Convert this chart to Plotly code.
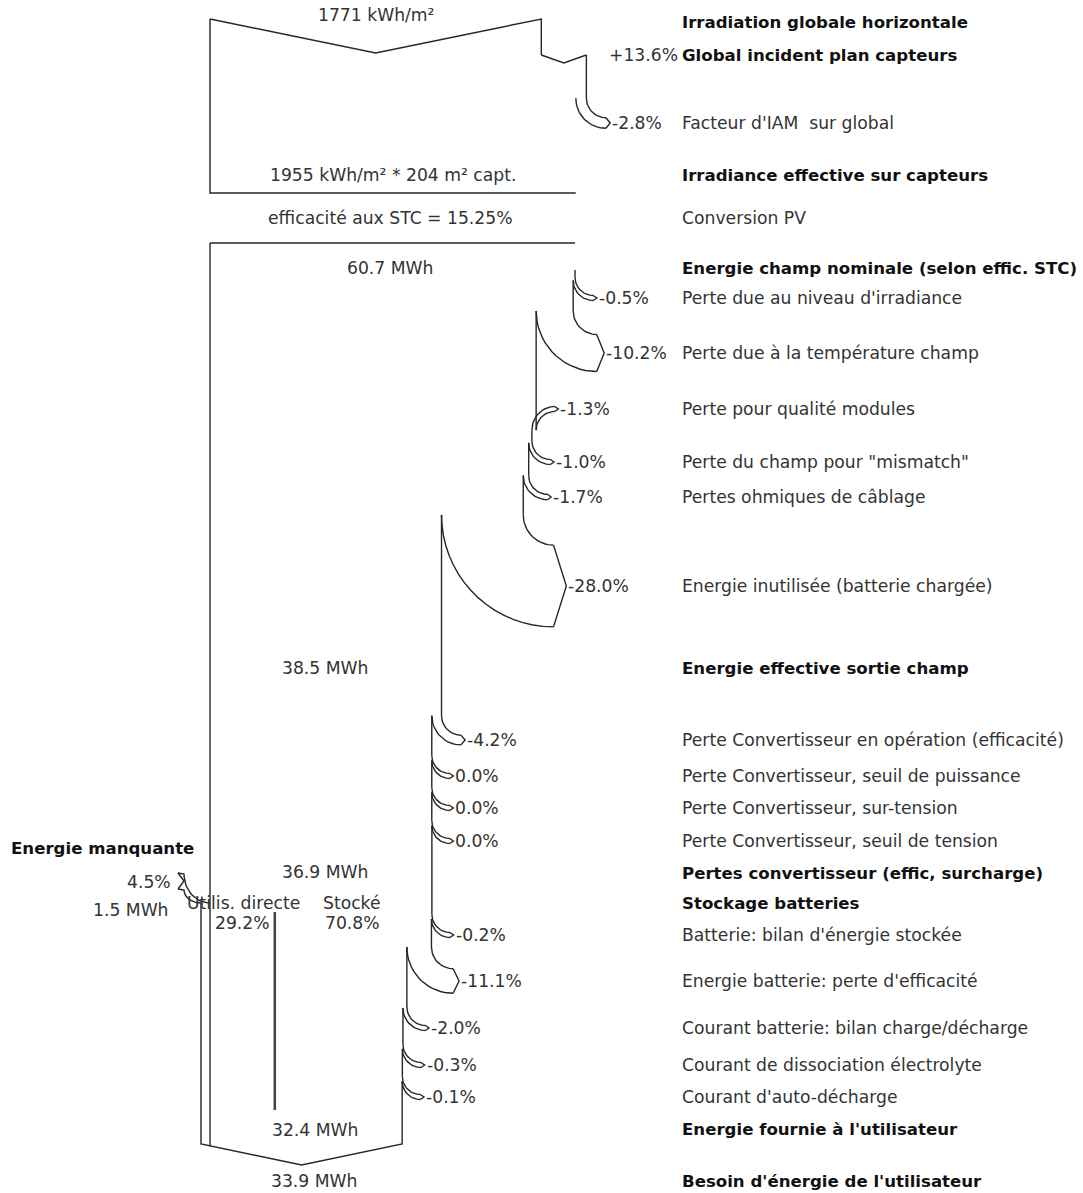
import numpy as np
import plotly.graph_objects as go

# ---- data ----
ghi = 1771            # kWh/m2, irradiation globale horizontale
transpo_gain = 13.6   # %
iam_loss = -2.8       # %
poa_eff = 1955        # kWh/m2 effective
area = 204            # m2 capteurs
eff_stc = 15.25       # %
e_nom = 60.7          # MWh

array_loss_labels = ["Perte due au niveau d'irradiance", "Perte due à la température champ",
                     "Perte pour qualité modules", 'Perte du champ pour "mismatch"',
                     "Pertes ohmiques de câblage", "Energie inutilisée (batterie chargée)"]
array_loss_pct = [-0.5, -10.2, -1.3, -1.0, -1.7, -28.0]
e_array = 38.5

conv_loss_labels = ["Perte Convertisseur en opération (efficacité)", "Perte Convertisseur, seuil de puissance",
                    "Perte Convertisseur, sur-tension", "Perte Convertisseur, seuil de tension"]
conv_loss_pct = [-4.2, 0.0, 0.0, 0.0]
e_conv = 36.9

direct_use_pct = 29.2
stored_pct = 70.8

batt_loss_labels = ["Batterie: bilan d'énergie stockée", "Energie batterie: perte d'efficacité",
                    "Courant batterie: bilan charge/décharge", "Courant de dissociation électrolyte",
                    "Courant d'auto-décharge"]
batt_loss_pct = [-0.2, -11.1, -2.0, -0.3, -0.1]

e_user = 32.4
e_missing = 1.5
missing_pct = 4.5
e_load = 33.9

# ---- layout (pixel rows of the diagram) ----
W, H = 1083, 1193
X0 = 210
NOM_WIDTH = 365
LABEL_X = 681
Y_GHI, Y_GAIN, Y_IAM, Y_POA, Y_CONVPV, Y_NOM = 22, 55, 123, 175, 218, 268
array_rows = [298, 353, 409, 462, 497, 586]
Y_ARRAY = 668
conv_rows = [740, 776, 808, 841]
Y_CONV, Y_STORE = 873, 903
batt_rows = [935, 981, 1028, 1065, 1097]
Y_USER, Y_LOAD = 1129, 1181
UPWARD = {"Perte pour qualité modules"}

FONT = "DejaVu Sans"
FS = 17.2
FS_BOLD = 16.6
LINE = "#262626"
TXT = "#333333"

scale = NOM_WIDTH / e_nom
scale_irr = scale * area * eff_stc / 100 / 1000


def xpos(v, s=scale):
    return X0 + v * s


xs, ys = [], []


def path(pts):
    for x, y in pts:
        xs.append(x)
        ys.append(y)
    xs.append(None)
    ys.append(None)


def quarter(xa, ya, xb, yb, n=18):
    t = np.linspace(0, np.pi / 2, n)
    return list(zip(xb - (xb - xa) * np.cos(t), ya + (yb - ya) * np.sin(t)))


annotations = []


def text(x, y, s, anchor="left", bold=False, color=TXT):
    size = FS
    if bold:
        s = "<b>" + s + "</b>"
        color = "#111111"
        size = FS_BOLD
    annotations.append(dict(x=x, y=y, text=s, xref="x", yref="y", xanchor=anchor, yanchor="middle",
                            showarrow=False, borderpad=0,
                            font=dict(family=FONT, size=size, color=color)))


def fmt(p):
    if p == 0:
        return "0.0%"
    return f"{p:+.1f}%" if p > 0 else f"{p:.1f}%"


def run_losses(value, s, cur_x, cur_y, pcts, rows, labels, end_value=None):
    for i, (p, yl, lab) in enumerate(zip(pcts, rows, labels)):
        value = value * (1 + p / 100)
        if end_value is not None and i == len(pcts) - 1:
            value = end_value
        x1, x2 = cur_x, xpos(value, s)
        w = abs(x1 - x2)
        h = max(w, 5)
        xe = x1 + 18 + 0.15 * w
        tip = 3 + 0.12 * h
        if lab in UPWARD:
            ya = yl + h / 2 + (xe - x1)
            path(quarter(x1, ya, xe, yl + h / 2))
            path(quarter(x2, ya, xe, yl - h / 2))
            yb = ya
        else:
            ya = yl - h / 2 - (xe - x1)
            yb = yl + h / 2 - (xe - x2)
            path(quarter(x1, ya, xe, yl - h / 2))
            path(quarter(x2, yb, xe, yl + h / 2))
        path([(xe, yl - h / 2), (xe + tip, yl), (xe, yl + h / 2)])
        path([(x1, cur_y), (x1, ya)])
        text(xe + tip + 1, yl, fmt(p))
        text(LABEL_X, yl, lab)
        cur_x, cur_y = x2, yb
    return value, cur_x, cur_y


# ---- irradiance block ----
x_ghi = xpos(ghi, scale_irr)
path([(X0, 19), ((X0 + x_ghi) / 2, 53), (x_ghi, 19), (x_ghi, Y_GAIN)])
g = ghi * (1 + transpo_gain / 100)
x_g = xpos(g, scale_irr)
path([(x_ghi, Y_GAIN), ((x_ghi + x_g) / 2, Y_GAIN + 8), (x_g, Y_GAIN)])
run_losses(g, scale_irr, x_g, Y_GAIN, [iam_loss], [Y_IAM], ["Facteur d'IAM  sur global"])
path([(X0, 19), (X0, 193), (xpos(poa_eff, scale_irr), 193)])

text((X0 + x_ghi) / 2, 15, "1771 kWh/m²", "center")
text(LABEL_X, Y_GHI, "Irradiation globale horizontale", bold=True)
text(LABEL_X - 2, Y_GAIN, fmt(transpo_gain), "right")
text(LABEL_X, Y_GAIN, "Global incident plan capteurs", bold=True)
text(393, Y_POA, f"{poa_eff} kWh/m² * {area} m² capt.", "center")
text(LABEL_X, Y_POA, "Irradiance effective sur capteurs", bold=True)
text(390, Y_CONVPV, f"efficacité aux STC = {eff_stc:.2f}%", "center")
text(LABEL_X, Y_CONVPV, "Conversion PV")

# ---- energy block ----
x_nom = xpos(e_nom)
text(390, Y_NOM, f"{e_nom} MWh", "center")
text(LABEL_X, Y_NOM, "Energie champ nominale (selon effic. STC)", bold=True)
v, cx, cy = run_losses(e_nom, scale, x_nom, Y_NOM + 2, array_loss_pct, array_rows, array_loss_labels, e_array)
text(325, Y_ARRAY, f"{e_array} MWh", "center")
text(LABEL_X, Y_ARRAY, "Energie effective sortie champ", bold=True)
v, cx, cy = run_losses(v, scale, cx, cy, conv_loss_pct, conv_rows, conv_loss_labels, e_conv)
text(325, Y_CONV - 1, f"{e_conv} MWh", "center")
text(LABEL_X, Y_CONV, "Pertes convertisseur (effic, surcharge)", bold=True)
text(LABEL_X, Y_STORE, "Stockage batteries", bold=True)
v, cx, cy = run_losses(v, scale, cx, cy, batt_loss_pct, batt_rows, batt_loss_labels)

# user side: missing energy inflow and final V
h_miss = e_missing * scale
x_left = X0 - h_miss
y_join = 903
path([(178, 873), (184, 874)] + quarter(184, 874, X0, y_join)[1:])
path([(178, 889), (184, 890)] + quarter(184, 890, x_left, y_join)[1:])
path([(178, 873), (184, 881), (178, 889)])
y_v, depth = 1144, 21
x_mid = (x_left + cx) / 2
y_at_x0 = y_v + depth * (X0 - x_left) / (x_mid - x_left)
path([(x_left, y_join), (x_left, y_v), (x_mid, y_v + depth), (cx, y_v), (cx, cy)])
path([(X0, 243), (x_nom, 243)])
path([(X0, 243), (X0, y_at_x0)])

x_split = X0 + direct_use_pct / 100 * e_conv * scale

text(195, 848, "Energie manquante", "right", bold=True)
text(172, 882, f"{missing_pct}%", "right")
text(170, 910, f"{e_missing} MWh", "right")
text(243, 903, "Utilis. directe", "center")
text(242, 923, f"{direct_use_pct}%", "center")
text(352, 903, "Stocké", "center")
text(352, 923, f"{stored_pct}%", "center")
text(315, Y_USER + 1, f"{e_user} MWh", "center")
text(LABEL_X, Y_USER, "Energie fournie à l'utilisateur", bold=True)
text(x_mid + 12, Y_LOAD, f"{e_load} MWh", "center")
text(LABEL_X, Y_LOAD, "Besoin d'énergie de l'utilisateur", bold=True)

fig = go.Figure()
fig.add_trace(go.Scatter(x=xs, y=ys, mode="lines", line=dict(color=LINE, width=1.4),
                         hoverinfo="skip", showlegend=False))
fig.add_trace(go.Scatter(x=[x_split, x_split], y=[912, 1110], mode="lines",
                         line=dict(color="#444444", width=2.5), hoverinfo="skip", showlegend=False))
fig.update_layout(
    width=W, height=H,
    margin=dict(l=0, r=0, t=0, b=0),
    paper_bgcolor="white", plot_bgcolor="white",
    xaxis=dict(range=[0, W], visible=False, fixedrange=True),
    yaxis=dict(range=[H, 0], visible=False, fixedrange=True),
    annotations=annotations,
)
fig.write_html("out.html", config={"displayModeBar": False},
               post_script="document.body.style.margin='0';document.body.style.overflow='hidden';")
